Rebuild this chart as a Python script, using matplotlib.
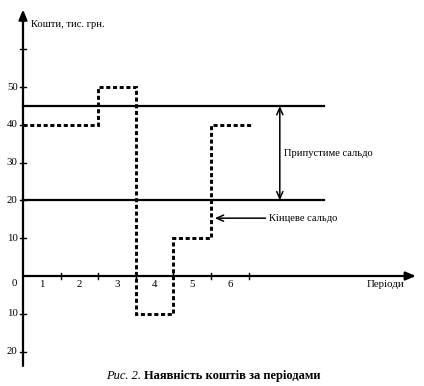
import matplotlib.pyplot as plt

plt.rcParams['font.family'] = ['Liberation Serif', 'DejaVu Serif']

# ------------------------------
# Data
# ------------------------------
period_edges = [0, 2, 3, 4, 5, 6.1]
final_balance = [40, 50, -10, 10, 40]
upper_limit = 45
lower_limit = 20
limit_end = 8.0
x_tick_pos = [1, 2, 3, 4, 5, 6]
x_labels = ['1', '2', '3', '4', '5', '6']
x_label_pos = [0.5, 1.5, 2.5, 3.5, 4.5, 5.5]
y_ticks = [50, 40, 30, 20, 10, -10, -20]
y_labels = ['50', '40', '30', '20', '10', '10', '20']

W, H = 424, 386
fig = plt.figure(figsize=(W / 100, H / 100), dpi=100)
ax = fig.add_axes([0, 0, 1, 1])
ax.set_axis_off()

# pixel mapping: origin at (23, 276), 37.6 px per period, 3.78 px per unit
px_x, px_y = 37.6, 3.78
ax.set_xlim(-23 / px_x, (W - 23) / px_x)
ax.set_ylim(-(H - 276) / px_y, 276 / px_y)

# axes with arrows
arrow = dict(arrowstyle='-|>,head_length=0.6,head_width=0.25', color='black',
             lw=1.6, shrinkA=0, shrinkB=0)
ax.annotate('', xy=(0, 70.5), xytext=(0, -23.8), arrowprops=arrow)
ax.annotate('', xy=(10.45, 0), xytext=(0, 0), arrowprops=arrow)

# ticks
for t in y_ticks + [60]:
    ax.plot([-0.07, 0.07], [t, t], color='black', lw=1)
for t in x_tick_pos:
    ax.plot([t, t], [-0.8, 0.8], color='black', lw=1)

fs = 7.8
for t, lab in zip(y_ticks, y_labels):
    ax.text(-0.14, t, lab, ha='right', va='center', fontsize=fs)
ax.text(-0.17, -2.0, '0', ha='right', va='center', fontsize=fs)
for p, lab in zip(x_label_pos, x_labels):
    ax.text(p, -2.3, lab, ha='center', va='center', fontsize=fs)

ax.text(0.22, 66.5, 'Кошти, тис. грн.', ha='left', va='center', fontsize=7.6)
ax.text(9.63, -2.3, 'Періоди', ha='center', va='center', fontsize=fs)

# limits
ax.plot([0, limit_end], [upper_limit, upper_limit], color='black', lw=1.6)
ax.plot([0, limit_end], [lower_limit, lower_limit], color='black', lw=1.6)

# final balance
ax.stairs(final_balance, period_edges, baseline=None, color='black',
          lw=2.1, linestyle=(0, (1.4, 0.9)))

# annotations
ax.annotate('', xy=(6.83, upper_limit), xytext=(6.83, lower_limit),
            arrowprops=dict(arrowstyle='<->,head_length=0.5,head_width=0.22',
                            color='black', lw=1.1, shrinkA=0, shrinkB=0))
ax.text(6.95, 32.5, 'Припустиме сальдо', ha='left', va='center', fontsize=7.6)
ax.annotate('', xy=(5.1, 15.3), xytext=(6.45, 15.3),
            arrowprops=dict(arrowstyle='->,head_length=0.5,head_width=0.22',
                            color='black', lw=1.1, shrinkA=0, shrinkB=0))
ax.text(6.55, 15.3, 'Кінцеве сальдо', ha='left', va='center', fontsize=7.6)

# caption
fig.text(141 / W, 1 - 376 / H, 'Рис. 2.', ha='right', va='center',
         fontsize=9, style='italic')
fig.text(144 / W, 1 - 376 / H, 'Наявність коштів за періодами', ha='left',
         va='center', fontsize=9, weight='bold')

fig.savefig('out.png', dpi=100)
